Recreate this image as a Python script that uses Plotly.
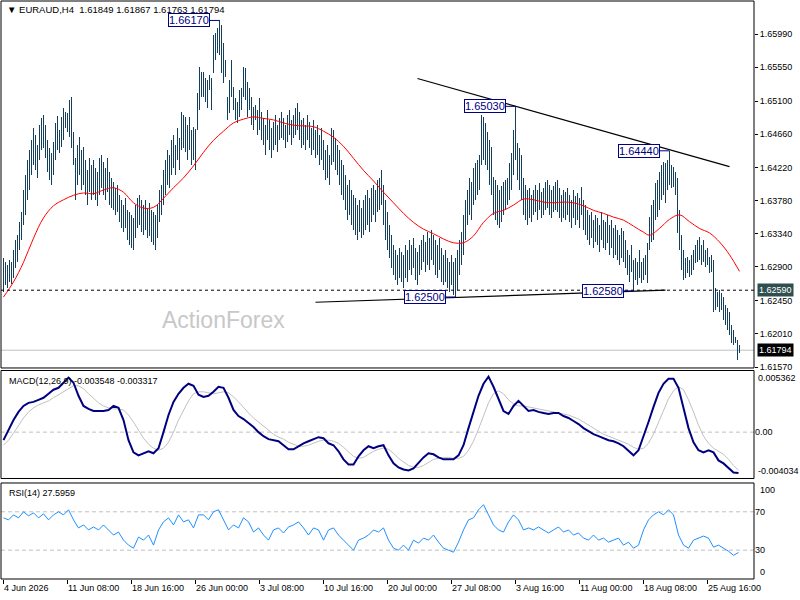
import plotly.graph_objects as go

# ---------------- data ----------------
header_text = "\u25BC EURAUD,H4\u00a0\u00a01.61849 1.61867 1.61763 1.61794"

bar_high = [
    1.6302, 1.6296, 1.6292, 1.6299, 1.6296, 1.6312, 1.6326, 1.6332, 1.6349, 1.6363,
    1.6392, 1.6412, 1.6432, 1.6445, 1.6458, 1.6474, 1.6465, 1.6452, 1.6478, 1.6488,
    1.6492, 1.6478, 1.6458, 1.6448, 1.6441, 1.6456, 1.6481, 1.6490, 1.6472, 1.6489,
    1.6501, 1.6495, 1.6494, 1.6511, 1.6515, 1.6469, 1.6434, 1.6452, 1.6462, 1.6445,
    1.6449, 1.6432, 1.6419, 1.6434, 1.6425, 1.6432, 1.6421, 1.6416, 1.6434, 1.6438,
    1.6429, 1.6421, 1.6434, 1.6416, 1.6408, 1.6403, 1.6395, 1.6399, 1.6385, 1.6379,
    1.6372, 1.6381, 1.6365, 1.6363, 1.6359, 1.6355, 1.6372, 1.6381, 1.6385, 1.6379,
    1.6372, 1.6379, 1.6368, 1.6375, 1.6365, 1.6363, 1.6359, 1.6372, 1.6392, 1.6399,
    1.6419, 1.6432, 1.6445, 1.6438, 1.6458, 1.6465, 1.6452, 1.6474, 1.6461, 1.6495,
    1.6492, 1.6489, 1.6478, 1.6489, 1.6472, 1.6476, 1.6473, 1.6521, 1.6555, 1.6548,
    1.6548, 1.6540, 1.6538, 1.6545, 1.6540, 1.6598, 1.6600, 1.6607, 1.6617, 1.6611,
    1.6587, 1.6564, 1.6515, 1.6538, 1.6564, 1.6529, 1.6514, 1.6509, 1.6525, 1.6527,
    1.6555, 1.6554, 1.6535, 1.6527, 1.6515, 1.6502, 1.6505, 1.6498, 1.6514, 1.6495,
    1.6487, 1.6478, 1.6498, 1.6485, 1.6474, 1.6482, 1.6492, 1.6478, 1.6488, 1.6495,
    1.6488, 1.6478, 1.6492, 1.6498, 1.6485, 1.6492, 1.6501, 1.6507, 1.6495, 1.6485,
    1.6488, 1.6478, 1.6492, 1.6482, 1.6474, 1.6485, 1.6472, 1.6478, 1.6465, 1.6474,
    1.6458, 1.6445, 1.6452, 1.6438, 1.6474, 1.6472, 1.6461, 1.6452, 1.6445, 1.6432,
    1.6425, 1.6412, 1.6399, 1.6405, 1.6392, 1.6385, 1.6381, 1.6372, 1.6379, 1.6368,
    1.6379, 1.6385, 1.6392, 1.6381, 1.6395, 1.6399, 1.6392, 1.6405, 1.6408, 1.6419,
    1.6399, 1.6379, 1.6363, 1.6346, 1.6332, 1.6319, 1.6312, 1.6306, 1.6315, 1.6310,
    1.6306, 1.6319, 1.6312, 1.6326, 1.6319, 1.6328, 1.6315, 1.6310, 1.6319, 1.6326,
    1.6332, 1.6323, 1.6336, 1.6328, 1.6339, 1.6332, 1.6326, 1.6319, 1.6328, 1.6315,
    1.6306, 1.6312, 1.6302, 1.6296, 1.6306, 1.6296, 1.6302, 1.6312, 1.6326, 1.6336,
    1.6359, 1.6379, 1.6392, 1.6408, 1.6403, 1.6421, 1.6428, 1.6432, 1.6438, 1.6491,
    1.6489, 1.6481, 1.6469, 1.6458, 1.6449, 1.6409, 1.6405, 1.6399, 1.6392, 1.6397,
    1.6403, 1.6405, 1.6408, 1.6428, 1.6441, 1.6472, 1.6503, 1.6454, 1.6448, 1.6438,
    1.6408, 1.6399, 1.6392, 1.6395, 1.6385, 1.6392, 1.6399, 1.6392, 1.6401, 1.6389,
    1.6395, 1.6403, 1.6405, 1.6399, 1.6392, 1.6397, 1.6403, 1.6405, 1.6395, 1.6385,
    1.6392, 1.6389, 1.6395, 1.6385, 1.6379, 1.6392, 1.6384, 1.6388, 1.6381, 1.6396,
    1.6379, 1.6372, 1.6365, 1.6359, 1.6363, 1.6352, 1.6359, 1.6355, 1.6346, 1.6363,
    1.6352, 1.6350, 1.6359, 1.6346, 1.6352, 1.6342, 1.6346, 1.6339, 1.6332, 1.6342,
    1.6337, 1.6326, 1.6312, 1.6306, 1.6319, 1.6299, 1.6302, 1.6296, 1.6312, 1.6296,
    1.6302, 1.6306, 1.6322, 1.6356, 1.6372, 1.6379, 1.6401, 1.6405, 1.6416, 1.6425,
    1.6429, 1.6428, 1.6432, 1.6444, 1.6425, 1.6422, 1.6416, 1.6408, 1.6365, 1.6332,
    1.6312, 1.6302, 1.6303, 1.6299, 1.6306, 1.6312, 1.6319, 1.6326, 1.6330, 1.6319,
    1.6326, 1.6312, 1.6315, 1.6303, 1.6306, 1.6299, 1.6262, 1.6257, 1.6259, 1.6255,
    1.6250, 1.6239, 1.6236, 1.6230, 1.6213, 1.6206, 1.6197, 1.6193, 1.61867,
]

bar_low = [
    1.6256, 1.6266, 1.6262, 1.6270, 1.6267, 1.6275, 1.6288, 1.6296, 1.6312, 1.6326,
    1.6346, 1.6359, 1.6379, 1.6392, 1.6412, 1.6425, 1.6419, 1.6408, 1.6432, 1.6445,
    1.6448, 1.6434, 1.6416, 1.6405, 1.6399, 1.6412, 1.6432, 1.6445, 1.6441, 1.6449,
    1.6458, 1.6474, 1.6469, 1.6462, 1.6448, 1.6425, 1.6379, 1.6399, 1.6412, 1.6392,
    1.6399, 1.6385, 1.6372, 1.6389, 1.6379, 1.6385, 1.6379, 1.6371, 1.6385, 1.6395,
    1.6385, 1.6379, 1.6389, 1.6372, 1.6368, 1.6365, 1.6359, 1.6363, 1.6349, 1.6342,
    1.6336, 1.6342, 1.6326, 1.6319, 1.6315, 1.6312, 1.6328, 1.6342, 1.6346, 1.6336,
    1.6332, 1.6339, 1.6328, 1.6331, 1.6323, 1.6319, 1.6312, 1.6328, 1.6350, 1.6359,
    1.6372, 1.6385, 1.6399, 1.6395, 1.6412, 1.6421, 1.6412, 1.6432, 1.6419, 1.6445,
    1.6448, 1.6442, 1.6432, 1.6445, 1.6425, 1.6432, 1.6419, 1.6472, 1.6498, 1.6515,
    1.6515, 1.6509, 1.6501, 1.6525, 1.6498, 1.6547, 1.6564, 1.6574, 1.6571, 1.6547,
    1.6534, 1.6542, 1.6485, 1.6494, 1.6515, 1.6498, 1.6485, 1.6481, 1.6489, 1.6498,
    1.6515, 1.6511, 1.6489, 1.6498, 1.6478, 1.6472, 1.6485, 1.6465, 1.6472, 1.6458,
    1.6452, 1.6438, 1.6458, 1.6445, 1.6434, 1.6445, 1.6452, 1.6442, 1.6458, 1.6461,
    1.6458, 1.6448, 1.6456, 1.6465, 1.6452, 1.6461, 1.6465, 1.6472, 1.6458, 1.6448,
    1.6452, 1.6445, 1.6458, 1.6448, 1.6438, 1.6445, 1.6434, 1.6438, 1.6425, 1.6432,
    1.6419, 1.6405, 1.6408, 1.6399, 1.6425, 1.6429, 1.6419, 1.6412, 1.6399, 1.6385,
    1.6379, 1.6365, 1.6352, 1.6359, 1.6346, 1.6339, 1.6332, 1.6326, 1.6336, 1.6328,
    1.6332, 1.6339, 1.6346, 1.6336, 1.6350, 1.6359, 1.6350, 1.6363, 1.6365, 1.6372,
    1.6346, 1.6326, 1.6312, 1.6302, 1.6288, 1.6279, 1.6272, 1.6266, 1.6275, 1.6270,
    1.6262, 1.6275, 1.6270, 1.6286, 1.6279, 1.6288, 1.6272, 1.6266, 1.6279, 1.6286,
    1.6296, 1.6283, 1.6292, 1.6286, 1.6299, 1.6292, 1.6279, 1.6275, 1.6286, 1.6270,
    1.6266, 1.6270, 1.6262, 1.6256, 1.6266, 1.6253, 1.6250, 1.6259, 1.6279, 1.6292,
    1.6306, 1.6326, 1.6346, 1.6359, 1.6352, 1.6372, 1.6379, 1.6385, 1.6392, 1.6425,
    1.6432, 1.6425, 1.6419, 1.6399, 1.6385, 1.6359, 1.6352, 1.6346, 1.6342, 1.6350,
    1.6359, 1.6365, 1.6372, 1.6379, 1.6392, 1.6412, 1.6432, 1.6405, 1.6392, 1.6379,
    1.6359, 1.6352, 1.6346, 1.6355, 1.6350, 1.6359, 1.6363, 1.6352, 1.6365, 1.6355,
    1.6359, 1.6365, 1.6368, 1.6359, 1.6355, 1.6363, 1.6365, 1.6363, 1.6355, 1.6350,
    1.6355, 1.6352, 1.6359, 1.6350, 1.6342, 1.6355, 1.6346, 1.6352, 1.6342, 1.6359,
    1.6339, 1.6332, 1.6326, 1.6319, 1.6328, 1.6315, 1.6323, 1.6319, 1.6310, 1.6326,
    1.6315, 1.6312, 1.6321, 1.6306, 1.6315, 1.6302, 1.6306, 1.6299, 1.6292, 1.6302,
    1.6296, 1.6288, 1.6279, 1.6270, 1.6283, 1.6258, 1.6272, 1.6266, 1.6275, 1.6268,
    1.6272, 1.6279, 1.6268, 1.6312, 1.6323, 1.6326, 1.6352, 1.6356, 1.6365, 1.6379,
    1.6385, 1.6375, 1.6392, 1.6399, 1.6395, 1.6396, 1.6385, 1.6335, 1.6312, 1.6286,
    1.6272, 1.6275, 1.6282, 1.6276, 1.6279, 1.6286, 1.6295, 1.6296, 1.6299, 1.6292,
    1.6296, 1.6290, 1.6292, 1.6282, 1.6283, 1.6230, 1.6233, 1.6237, 1.6230, 1.6233,
    1.6220, 1.6213, 1.6206, 1.6200, 1.6189, 1.6186, 1.6189, 1.6166, 1.61763,
]

ma_bar = [0, 5, 10, 15, 20, 25, 30, 35, 40, 45, 50, 55, 60, 65, 70, 75, 80, 85, 90, 95,
          100, 105, 110, 115, 120, 125, 130, 135, 140, 145, 150, 155, 160, 165, 170, 175,
          180, 185, 190, 195, 200, 205, 210, 215, 220, 225, 230, 235, 240, 245, 250, 255,
          260, 265, 270, 275, 280, 285, 290, 295, 300, 305, 310, 315, 320, 323, 328, 333,
          338, 343, 348, 353, 358, 363, 368]
ma_value = [1.6250, 1.6270, 1.6296, 1.6328, 1.6355, 1.6371, 1.6379, 1.6385, 1.6388, 1.6387,
            1.6392, 1.6395, 1.6389, 1.6375, 1.6368, 1.6369, 1.6381, 1.6395, 1.6408, 1.6424,
            1.6442, 1.6458, 1.6470, 1.6481, 1.6486, 1.6489, 1.6487, 1.6485, 1.6481, 1.6478,
            1.6477, 1.6476, 1.6470, 1.6462, 1.6450, 1.6434, 1.6418, 1.6404, 1.6389, 1.6375,
            1.6361, 1.6349, 1.6340, 1.6334, 1.6327, 1.6322, 1.6322, 1.6331, 1.6349, 1.6361,
            1.6365, 1.6372, 1.6380, 1.6379, 1.6376, 1.6375, 1.6376, 1.6375, 1.6371, 1.6365,
            1.6361, 1.6356, 1.6352, 1.6344, 1.6336, 1.6332, 1.6341, 1.6353, 1.6359, 1.6350,
            1.6341, 1.6335, 1.6323, 1.6306, 1.6284]

# indicator readings taken every 2.5 bars
indicator_bar = [k * 2.5 for k in range(148)]
macd_main = [
    -0.00070, 0.00018, 0.00105, 0.00176, 0.00228, 0.00255, 0.00263, 0.00281, 0.00299, 0.00334,
    0.00369, 0.00386, 0.00430, 0.00474, 0.00430, 0.00316, 0.00228, 0.00202, 0.00184, 0.00184,
    0.00184, 0.00193, 0.00228, 0.00211, 0.00105, -0.00070, -0.00176, -0.00202, -0.00184, -0.00167,
    -0.00184, -0.00140, 0.00000, 0.00149, 0.00263, 0.00334, 0.00386, 0.00421, 0.00404, 0.00325,
    0.00307, 0.00316, 0.00351, 0.00395, 0.00386, 0.00299, 0.00193, 0.00140, 0.00114, 0.00079,
    0.00044, 0.00000, -0.00035, -0.00061, -0.00070, -0.00079, -0.00114, -0.00149, -0.00149, -0.00123,
    -0.00097, -0.00079, -0.00061, -0.00044, -0.00053, -0.00097, -0.00114, -0.00167, -0.00237, -0.00281,
    -0.00281, -0.00211, -0.00158, -0.00123, -0.00140, -0.00123, -0.00114, -0.00202, -0.00272, -0.00307,
    -0.00325, -0.00334, -0.00316, -0.00263, -0.00220, -0.00184, -0.00193, -0.00220, -0.00237, -0.00237,
    -0.00237, -0.00202, -0.00114, 0.00035, 0.00184, 0.00316, 0.00421, 0.00483, 0.00395, 0.00281,
    0.00184, 0.00158, 0.00228, 0.00272, 0.00228, 0.00184, 0.00193, 0.00176, 0.00167, 0.00158,
    0.00167, 0.00167, 0.00140, 0.00123, 0.00097, 0.00070, 0.00035, 0.00009, -0.00018, -0.00035,
    -0.00053, -0.00070, -0.00079, -0.00097, -0.00123, -0.00167, -0.00202, -0.00158, -0.00044, 0.00088,
    0.00220, 0.00342, 0.00421, 0.00465, 0.00465, 0.00386, 0.00211, 0.00035, -0.00088, -0.00158,
    -0.00176, -0.00158, -0.00176, -0.00246, -0.00272, -0.00316, -0.00351, -0.00355,
]
macd_signal = [
    -0.00114, -0.00070, -0.00009, 0.00061, 0.00123, 0.00176, 0.00211, 0.00237, 0.00255, 0.00272,
    0.00299, 0.00325, 0.00351, 0.00378, 0.00404, 0.00404, 0.00378, 0.00334, 0.00290, 0.00255,
    0.00228, 0.00211, 0.00202, 0.00202, 0.00193, 0.00149, 0.00088, 0.00018, -0.00053, -0.00105,
    -0.00140, -0.00158, -0.00140, -0.00088, 0.00000, 0.00105, 0.00193, 0.00272, 0.00334, 0.00351,
    0.00351, 0.00342, 0.00334, 0.00342, 0.00351, 0.00342, 0.00307, 0.00263, 0.00211, 0.00167,
    0.00123, 0.00088, 0.00053, 0.00018, -0.00018, -0.00044, -0.00061, -0.00088, -0.00105, -0.00123,
    -0.00123, -0.00114, -0.00097, -0.00079, -0.00070, -0.00070, -0.00079, -0.00097, -0.00132, -0.00176,
    -0.00211, -0.00228, -0.00220, -0.00193, -0.00167, -0.00149, -0.00140, -0.00149, -0.00184, -0.00228,
    -0.00263, -0.00290, -0.00307, -0.00307, -0.00290, -0.00263, -0.00237, -0.00228, -0.00220, -0.00220,
    -0.00228, -0.00228, -0.00211, -0.00158, -0.00079, 0.00026, 0.00140, 0.00255, 0.00334, 0.00360,
    0.00334, 0.00281, 0.00246, 0.00228, 0.00228, 0.00220, 0.00211, 0.00202, 0.00193, 0.00184,
    0.00176, 0.00167, 0.00158, 0.00149, 0.00132, 0.00114, 0.00088, 0.00061, 0.00035, 0.00009,
    -0.00018, -0.00035, -0.00053, -0.00070, -0.00088, -0.00105, -0.00132, -0.00149, -0.00140, -0.00097,
    -0.00018, 0.00088, 0.00193, 0.00290, 0.00360, 0.00395, 0.00369, 0.00281, 0.00176, 0.00061,
    -0.00035, -0.00097, -0.00140, -0.00167, -0.00193, -0.00237, -0.00290, -0.00332,
]
rsi_value = [
    63.7, 61.6, 66.8, 63.7, 70.0, 65.8, 68.9, 63.7, 67.9, 61.6,
    66.8, 70.0, 66.8, 72.1, 61.6, 53.2, 56.3, 51.1, 54.2, 51.1,
    56.3, 51.1, 45.8, 48.9, 40.5, 35.3, 32.1, 43.7, 40.5, 45.8,
    35.3, 51.1, 59.5, 63.7, 56.3, 66.8, 59.5, 61.6, 53.2, 66.8,
    66.8, 61.6, 70.0, 72.1, 61.6, 51.1, 56.3, 53.2, 63.7, 59.5,
    48.9, 53.2, 45.8, 40.5, 51.1, 53.2, 47.9, 54.2, 56.3, 59.5,
    53.2, 45.8, 53.2, 51.1, 40.5, 51.1, 53.2, 45.8, 40.5, 35.3,
    30.0, 40.5, 42.6, 45.8, 51.1, 48.9, 53.2, 40.5, 32.1, 30.0,
    35.3, 30.0, 40.5, 37.4, 42.6, 40.5, 45.8, 38.4, 32.1, 30.0,
    27.9, 38.4, 51.1, 61.6, 63.7, 72.1, 77.4, 66.8, 56.3, 51.1,
    48.9, 59.5, 66.8, 61.6, 51.1, 53.2, 51.1, 54.2, 51.1, 47.9,
    51.1, 54.2, 48.9, 51.1, 45.8, 47.9, 42.6, 40.5, 45.8, 40.5,
    42.6, 38.4, 40.5, 42.6, 35.3, 38.4, 32.1, 35.3, 51.1, 61.6,
    66.8, 70.0, 66.8, 72.1, 66.8, 45.8, 35.3, 32.1, 40.5, 42.6,
    44.7, 42.6, 33.2, 35.3, 32.1, 28.9, 24.7, 27.6,
]

price_ticks = [1.6599, 1.6555, 1.6510, 1.6466, 1.6422, 1.6378, 1.6334, 1.6290, 1.6245, 1.6201, 1.6157]
date_tick_bars = [0, 32, 64, 96, 128, 160, 192, 224, 256, 288, 320, 352]
date_tick_labels = ["4 Jun 2026", "11 Jun 08:00", "18 Jun 16:00", "26 Jun 00:00", "3 Jul 08:00",
                    "10 Jul 16:00", "20 Jul 00:00", "27 Jul 08:00", "3 Aug 16:00", "11 Aug 00:00",
                    "18 Aug 08:00", "25 Aug 16:00"]

marked_bars = [108, 256, 333, 226, 315]
marked_prices = [1.66170, 1.65030, 1.64440, 1.62500, 1.62580]

trend_upper_bar = [207, 363]
trend_upper_price = [1.6540, 1.6423]
trend_lower_bar = [156, 331]
trend_lower_price = [1.6243, 1.6259]

level_line = 1.62590
last_price = 1.61794
macd_max, macd_min = 0.005362, -0.004034
macd_title = "MACD(12,26,9) -0.003548 -0.003317"
rsi_title = "RSI(14) 27.5959"
rsi_levels = [70, 30]

# ---------------- style ----------------
FONT = "Liberation Sans, Arial, sans-serif"
BAR_COLOR = "#143f5c"
NAVY = "#000080"

bar_index = list(range(len(bar_high)))
fig = go.Figure()
fig.add_trace(go.Bar(x=bar_index, y=[h - l for h, l in zip(bar_high, bar_low)], base=bar_low,
                     width=0.5, marker=dict(color=BAR_COLOR, line=dict(width=0)),
                     xaxis="x", yaxis="y", hoverinfo="skip"))
fig.add_trace(go.Scatter(x=ma_bar, y=ma_value, mode="lines",
                         line=dict(color="#ff0000", width=1, shape="spline"), yaxis="y"))
fig.add_trace(go.Scatter(x=trend_upper_bar, y=trend_upper_price, mode="lines",
                         line=dict(color="black", width=1.2), yaxis="y"))
fig.add_trace(go.Scatter(x=trend_lower_bar, y=trend_lower_price, mode="lines",
                         line=dict(color="black", width=1.2), yaxis="y"))
fig.add_trace(go.Scatter(x=indicator_bar, y=macd_signal, mode="lines",
                         line=dict(color="#c0c0c0", width=1), yaxis="y2"))
fig.add_trace(go.Scatter(x=indicator_bar, y=macd_main, mode="lines",
                         line=dict(color=NAVY, width=2), yaxis="y2"))
fig.add_trace(go.Scatter(x=indicator_bar, y=rsi_value, mode="lines",
                         line=dict(color="#1e90ff", width=1), yaxis="y3"))

tick_font = dict(family=FONT, size=9, color="black")
axis_common = dict(showgrid=False, zeroline=False, showline=False, side="right", anchor="x")

fig.update_layout(
    width=800, height=600, showlegend=False,
    paper_bgcolor="white", plot_bgcolor="white",
    margin=dict(l=1, r=46, t=1, b=21),
    bargap=0,
    xaxis=dict(domain=[0, 1], range=[-1.25, 375.25], anchor="y3", showgrid=False, zeroline=False,
               showline=False, tickvals=date_tick_bars, ticktext=date_tick_labels,
               ticks="outside", ticklen=4, tickcolor="black", tickfont=tick_font,
               ticklabelposition="outside right"),
    yaxis=dict(domain=[0.3651, 1], range=[1.61558, 1.66428], tickvals=price_ticks,
               ticktext=[f"{v:.5f}" for v in price_ticks], ticks="outside", ticklen=3,
               tickcolor="black", tickfont=tick_font, **axis_common),
    yaxis2=dict(domain=[0.1739, 0.3607], range=[macd_min, macd_max], tickvals=[0],
                ticktext=["0.00"], ticks="", tickfont=tick_font, **axis_common),
    yaxis3=dict(domain=[0, 0.1661], range=[0, 100], tickvals=rsi_levels,
                ticktext=[str(v) for v in rsi_levels], ticks="", tickfont=tick_font, **axis_common),
)

shapes = []
for yr in ["y", "y2", "y3"]:
    shapes.append(dict(type="rect", xref="x domain", yref=f"{yr} domain", x0=0, x1=1, y0=0, y1=1,
                       line=dict(color="black", width=1), fillcolor="rgba(0,0,0,0)", layer="above"))
shapes.append(dict(type="line", xref="x domain", yref="y", x0=0, x1=1, y0=level_line, y1=level_line,
                   line=dict(color="black", width=1, dash="3px,3px")))
shapes.append(dict(type="line", xref="x domain", yref="y", x0=0, x1=1, y0=last_price, y1=last_price,
                   line=dict(color="#c0c0c0", width=1), layer="below"))
shapes.append(dict(type="line", xref="x domain", yref="y2", x0=0, x1=1, y0=0, y1=0,
                   line=dict(color="#c0c0c0", width=1, dash="4px,3px"), layer="below"))
for lv in rsi_levels:
    shapes.append(dict(type="line", xref="x domain", yref="y3", x0=0, x1=1, y0=lv, y1=lv,
                       line=dict(color="#c0c0c0", width=1, dash="4px,3px"), layer="below"))
LABEL_GAP = 5
for b, p in zip(marked_bars, marked_prices):
    shapes.append(dict(type="line", xref="x", yref="y", x0=b - LABEL_GAP, x1=b, y0=p, y1=p,
                       line=dict(color=NAVY, width=1)))
fig.update_layout(shapes=shapes)

ann = []
ann.append(dict(text=header_text, xref="x domain", yref="y domain", x=0, y=1, xshift=4, yshift=-1,
                xanchor="left", yanchor="top", showarrow=False, font=dict(family=FONT, size=9.5, color="black")))
ann.append(dict(text="ActionForex", xref="x domain", yref="y domain", x=0.211, y=0.13,
                xanchor="left", yanchor="middle", showarrow=False,
                font=dict(family=FONT, size=23, color="#c8c8c8")))
for b, p in zip(marked_bars, marked_prices):
    ann.append(dict(text=f"{p:.5f}", xref="x", yref="y", x=b - LABEL_GAP, y=p, xanchor="right",
                    yanchor="middle", showarrow=False, bgcolor="white", bordercolor=NAVY,
                    borderwidth=1, borderpad=0, font=dict(family=FONT, size=11, color=NAVY)))
ann.append(dict(text=f"{level_line:.5f}", xref="x domain", yref="y", x=1, y=level_line, xshift=3,
                xanchor="left", yanchor="middle", showarrow=False, bgcolor="#2f4f4f", borderpad=1,
                font=dict(family=FONT, size=9, color="white")))
ann.append(dict(text=f"{last_price:.5f}", xref="x domain", yref="y", x=1, y=last_price, xshift=3,
                xanchor="left", yanchor="middle", showarrow=False, bgcolor="black", borderpad=1,
                font=dict(family=FONT, size=9, color="white")))
ann.append(dict(text=macd_title, xref="x domain", yref="y2 domain", x=0, y=1, xshift=6, yshift=-3,
                xanchor="left", yanchor="top", showarrow=False, font=dict(family=FONT, size=9, color="black")))
ann.append(dict(text=f"{macd_max:.6f}", xref="x domain", yref="y2", x=1, y=macd_max, xshift=2,
                xanchor="left", yanchor="top", showarrow=False, font=tick_font))
ann.append(dict(text=f"{macd_min:.6f}", xref="x domain", yref="y2", x=1, y=macd_min, xshift=2,
                xanchor="left", yanchor="bottom", showarrow=False, font=tick_font))
ann.append(dict(text=rsi_title, xref="x domain", yref="y3 domain", x=0, y=1, xshift=6, yshift=-3,
                xanchor="left", yanchor="top", showarrow=False, font=dict(family=FONT, size=9, color="black")))
ann.append(dict(text="100", xref="x domain", yref="y3", x=1, y=100, xshift=4,
                xanchor="left", yanchor="top", showarrow=False, font=tick_font))
ann.append(dict(text="0", xref="x domain", yref="y3", x=1, y=0, xshift=4,
                xanchor="left", yanchor="bottom", showarrow=False, font=tick_font))
fig.update_layout(annotations=ann)

fig.write_html("out.html", config={"displayModeBar": False},
               post_script="document.body.style.margin='0';")
